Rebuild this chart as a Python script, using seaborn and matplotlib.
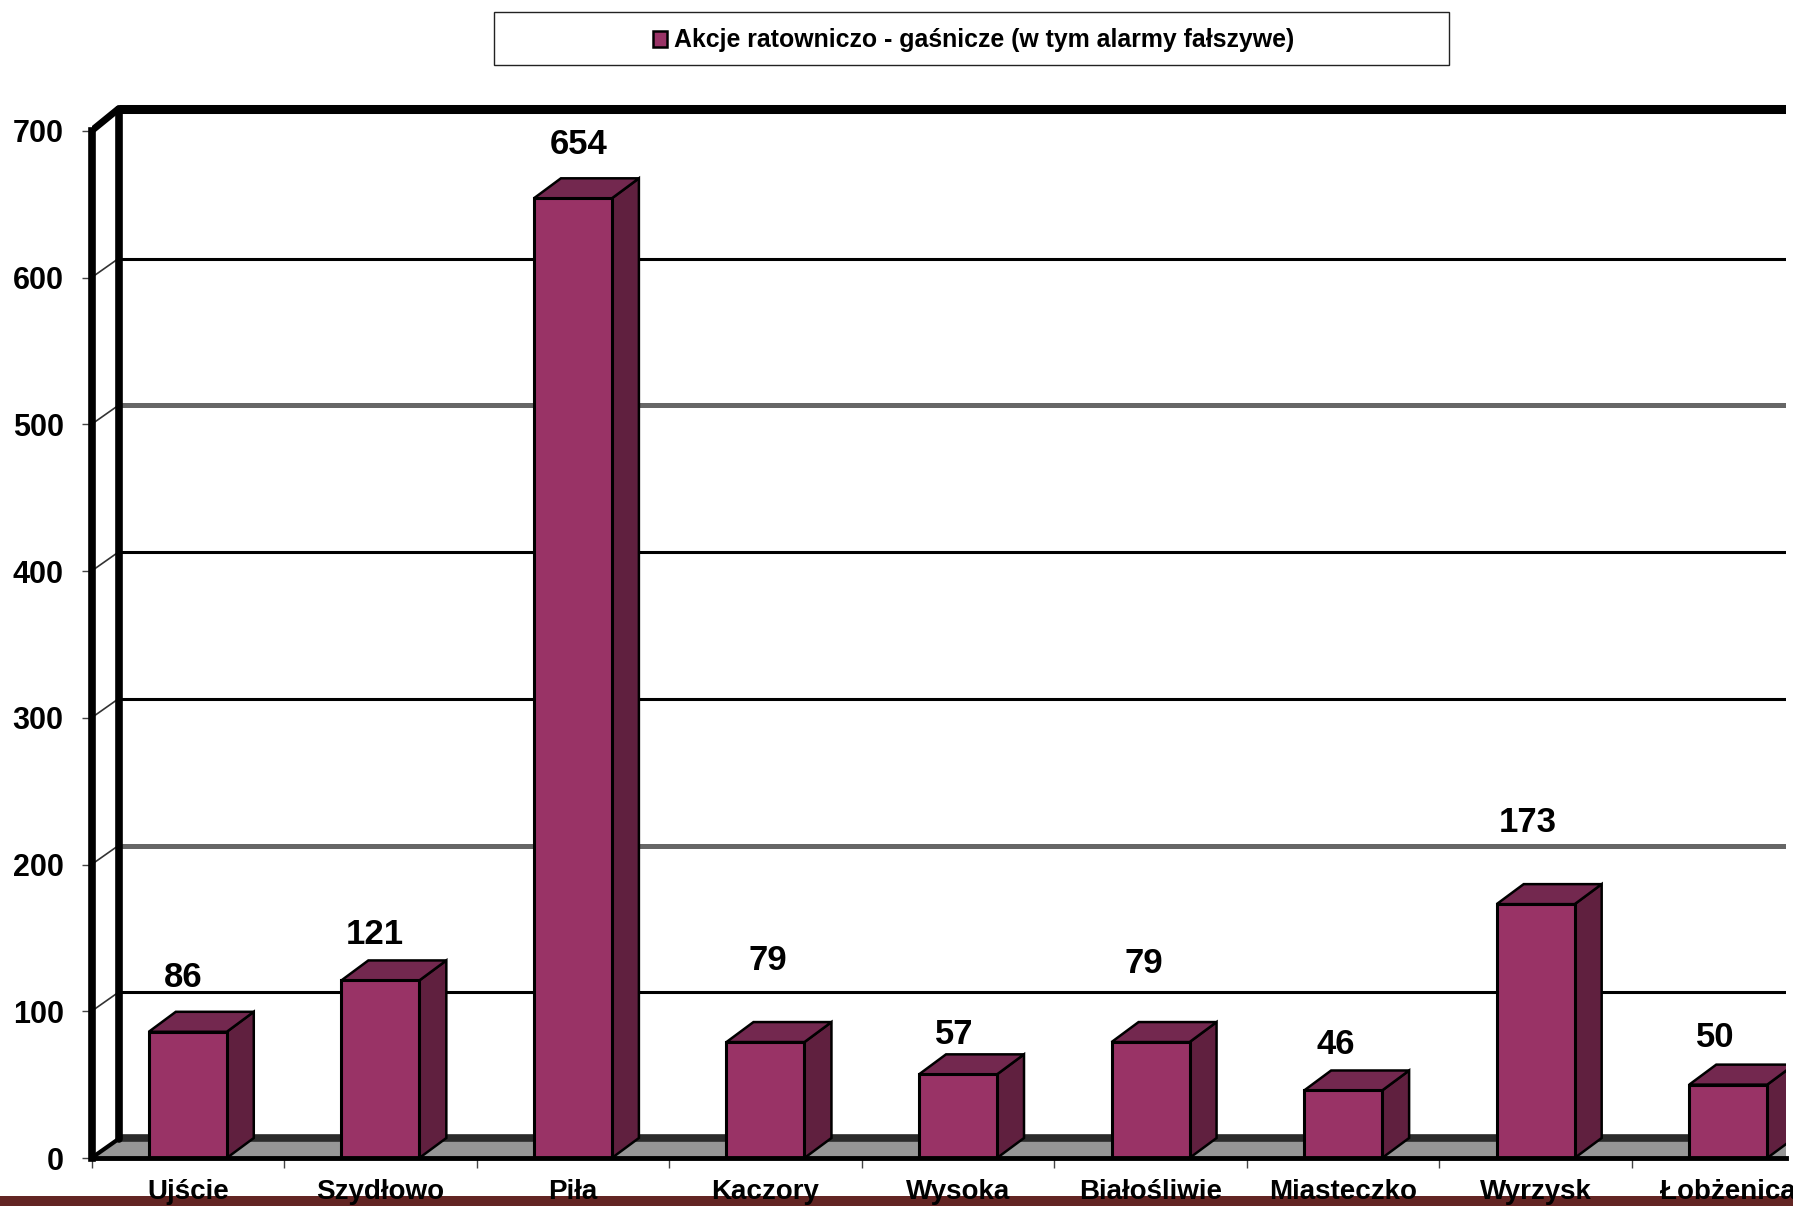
import matplotlib
matplotlib.use('Agg')
from matplotlib import pyplot as plt
from matplotlib.patches import Rectangle
import pandas as pd
import seaborn as sns

cities = ['Ujście', 'Szydłowo', 'Piła', 'Kaczory', 'Wysoka', 'Białośliwie', 'Miasteczko', 'Wyrzysk', 'Łobżenica']
actions = [86, 121, 654, 79, 57, 79, 46, 173, 50]
y_ticks = [0, 100, 200, 300, 400, 500, 600, 700]
legend_label = 'Akcje ratowniczo - gaśnicze (w tym alarmy fałszywe)'

W, H = 1793, 1206
FRONT = '#993366'
TOP = '#73284f'
SIDE = '#60203f'
FLOOR = '#969696'

sns.set_style('white')
plt.rcParams['font.family'] = ['Liberation Sans', 'DejaVu Sans']
plt.rcParams['font.weight'] = 'bold'
plt.rcParams['text.color'] = 'black'
plt.rcParams['xtick.labelcolor'] = 'black'
plt.rcParams['ytick.labelcolor'] = 'black'

fig = plt.figure(figsize=(W / 100, H / 100), dpi=100, facecolor='white')

# axes box in pixels, value 0 sits on the front edge of the floor
left, right, bottom, top = 91.5, 1786, 1158, 100
ax = fig.add_axes([left / W, 1 - bottom / H, (right - left) / W, (bottom - top) / H])

df = pd.DataFrame({'city': cities, 'actions': actions})
sns.barplot(data=df, x='city', y='actions', color=FRONT, saturation=1, width=0.405,
            edgecolor='black', linewidth=2.2, ax=ax, zorder=5)

x0 = -0.5
x1 = 8.3
ax.set_xlim(x0, x1)
ax.set_ylim(0, 721)
ax.set_xlabel('')
ax.set_ylabel('')

# depth of the fake 3d box, in data units
cat_px = 192.5
val_px = 1.467
wall_dx = 27 / cat_px
wall_dy = 19 / val_px
bar_dx = 27 / cat_px
bar_dy = 20 / val_px
top_dy = 22 / val_px

# floor
ax.fill([x0, x0 + wall_dx, x1, x1], [0, wall_dy, wall_dy, 0], color=FLOOR, zorder=1, lw=0)
ax.plot([x0 + wall_dx, x1], [wall_dy + 1, wall_dy + 1], color='#2b2b2b', lw=5.5, zorder=2,
        solid_capstyle='butt')

# grid on the back wall, 200 and 500 came out greyer in the original
for v in y_ticks[1:-1]:
    grey = v in (200, 500)
    ax.plot([x0 + wall_dx, x1], [v + wall_dy, v + wall_dy], color='#666666' if grey else 'black',
            lw=3.6 if grey else 2.2, zorder=2, solid_capstyle='butt')
    ax.plot([x0, x0 + wall_dx], [v, v + wall_dy], color='#333333', lw=1.2, zorder=2)

# back wall frame
ax.plot([x0 + wall_dx, x0 + wall_dx], [wall_dy, 700 + top_dy], color='black', lw=5.5, zorder=3)
ax.plot([x0 + wall_dx, x1], [700 + top_dy, 700 + top_dy], color='black', lw=6.5, zorder=3,
        solid_capstyle='butt')
ax.plot([x0, x0 + wall_dx], [700, 700 + top_dy], color='black', lw=5, zorder=3)
ax.plot([x0, x0 + wall_dx], [0, wall_dy], color='black', lw=3, zorder=3)

# sides and tops of the bars, taken from the bars seaborn made
for bar in ax.containers[0]:
    bx = bar.get_x()
    bw = bar.get_width()
    bh = bar.get_height()
    ax.fill([bx + bw, bx + bw + bar_dx, bx + bw + bar_dx, bx + bw],
            [0, bar_dy, bh + bar_dy, bh], facecolor=SIDE, edgecolor='black', lw=1.8, zorder=4)
    ax.fill([bx, bx + bar_dx, bx + bw + bar_dx, bx + bw],
            [bh, bh + bar_dy, bh + bar_dy, bh], facecolor=TOP, edgecolor='black', lw=1.8, zorder=4)

# value labels do not sit centred over the bars in the original, nudges are in points
nudges = [(-3, 27), (-4, 21), (4, 27), (2, 47), (-3, 17), (-5, 45), (-5, 21), (-6, 47), (-9, 22)]
for i, (val, nudge) in enumerate(zip(actions, nudges)):
    ax.annotate(str(val), (i, val), xytext=nudge, textcoords='offset points', ha='center',
                va='bottom', fontsize=25, fontweight='bold', color='black', zorder=8)

sns.despine(ax=ax, top=True, right=True)
ax.spines['left'].set_bounds(0, 700)
ax.spines['left'].set_linewidth(5.5)
ax.spines['left'].set_color('black')
ax.spines['bottom'].set_linewidth(3.5)
ax.spines['bottom'].set_color('black')
ax.spines['bottom'].set_zorder(6)

ax.set_yticks(y_ticks)
ax.tick_params(axis='y', left=True, length=7, width=1, color='#444444', labelsize=22, pad=13)
ax.set_xticks(range(len(cities)))
ax.set_xticklabels(cities)
ax.set_xticks([i - 0.5 for i in range(9)], minor=True)
ax.tick_params(axis='x', which='major', bottom=False, labelsize=20, pad=11.5)
ax.tick_params(axis='x', which='minor', bottom=True, length=7, width=1, color='#444444')
for lab in ax.get_xticklabels() + ax.get_yticklabels():
    lab.set_fontweight('bold')

# brown strip along the bottom edge of the slide, labels run over it
fig.patches.append(Rectangle((0, 0), 1, 10 / H, transform=fig.transFigure, facecolor='#632523',
                             edgecolor='none', zorder=-1))

# legend box
fig.patches.append(Rectangle((494 / W, 1 - 65 / H), 955 / W, 53 / H, transform=fig.transFigure,
                             facecolor='white', edgecolor='#222222', lw=1))
handle = Rectangle((0, 0), 1, 1, facecolor=FRONT, edgecolor='black', lw=1.8)
fig.legend([handle], [legend_label], loc='center', bbox_to_anchor=(974 / W, 1 - 40.5 / H),
           frameon=False, handlelength=0.55, handleheight=0.6, handletextpad=0.3,
           prop={'weight': 'bold', 'size': 17.9}, labelcolor='black')

fig.savefig('out.png', dpi=100)
